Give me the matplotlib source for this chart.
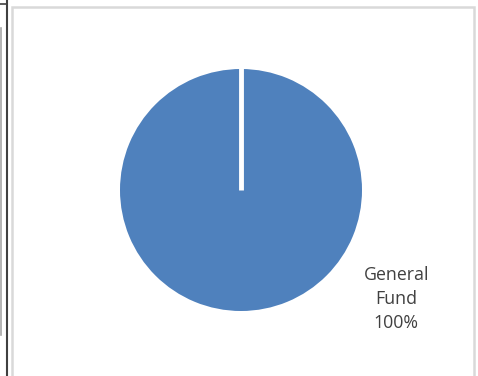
import matplotlib
matplotlib.use("Agg")
import numpy as np
import matplotlib.pyplot as plt
from matplotlib.lines import Line2D
from matplotlib.patches import Rectangle

categories = ["General Fund"]
values = [100]
colors = ["#4f81bd"]
start_angle = 90

W, H = 478, 376
fig = plt.figure(figsize=(W / 100, H / 100), dpi=100)
fig.patch.set_facecolor("white")


def px(x, y):
    return x / W, 1 - y / H


# neighbouring panel edge on the left
for (x0, y0), (x1, y1), c, lw in [
    ((7, 0), (7, 376), "#404040", 1.5),
    ((0, 4), (7, 4), "#404040", 1.2),
    ((0.5, 28), (0.5, 335), "#a6a6a6", 1.2),
]:
    a, b = px(x0, y0)
    c2, d = px(x1, y1)
    fig.add_artist(Line2D([a, c2], [b, d], color=c, lw=lw, transform=fig.transFigure))

# chart area border
fx0, fy0 = px(11.5, 7)
fx1, fy1 = px(474, 390)
fig.add_artist(Rectangle((fx0, fy1), fx1 - fx0, fy0 - fy1, transform=fig.transFigure,
                         fill=False, edgecolor="#d9d9d9", lw=1.8))

# pie axes centred at (241, 190) px with radius 121 px
cx, cy, r = 241, 190, 121
ax = fig.add_axes([(cx - r) / W, 1 - (cy + r) / H, 2 * r / W, 2 * r / H])
ax.pie(values, colors=colors, startangle=start_angle, counterclock=False, radius=1.0,
       wedgeprops=dict(edgecolor="none", linewidth=0))

# slice boundary at the start angle
theta = np.deg2rad(start_angle)
ax.plot([0, 1.01 * np.cos(theta)], [0, 1.01 * np.sin(theta)], color="white", lw=3.5,
        solid_capstyle="butt")
ax.set_xlim(-1, 1)
ax.set_ylim(-1, 1)
ax.set_aspect("equal")
ax.axis("off")

total = sum(values)
for name, v in zip(categories, values):
    ax.text(1.283, -0.9, f"{name.replace(' ', chr(10))}\n{v / total * 100:.0f}%",
            ha="center", va="center", fontsize=12.8, color="#404040",
            family="Open Sans", linespacing=1.4, clip_on=False)

fig.savefig("out.png", dpi=100)
